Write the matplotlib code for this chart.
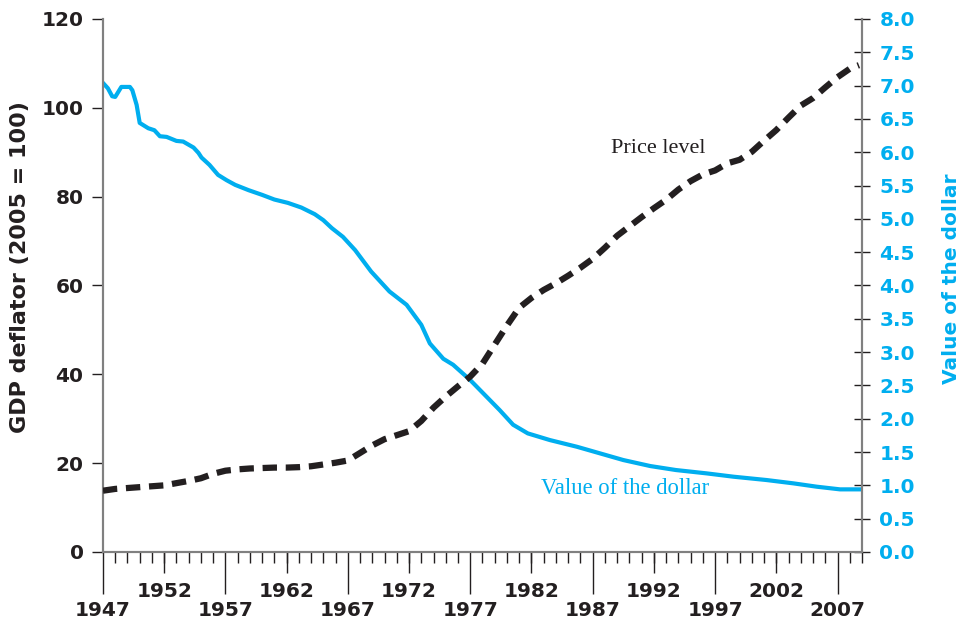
import numpy as np
import matplotlib
matplotlib.use("Agg")
import matplotlib.pyplot as plt
from matplotlib.ticker import FixedLocator, FormatStrFormatter

# Tingkat harga (GDP deflator, 2005 = 100)
price_years = list(range(1947, 2009)) + [2008.75]
price_level = [13.8, 14.2, 14.4, 14.6, 14.8, 15.0, 15.5, 16.0, 16.6, 17.6,
               18.3, 18.6, 18.8, 18.9, 19.0, 19.0, 19.1, 19.3, 19.7, 20.1,
               20.6, 22.3, 24.0, 25.4, 26.3, 27.2, 29.5, 32.5, 35.0, 37.3,
               39.5, 42.4, 46.7, 51.0, 55.0, 57.2, 59.0, 60.5, 62.2, 64.0,
               66.0, 68.5, 71.2, 73.3, 75.4, 77.4, 79.3, 81.6, 83.5, 85.0,
               85.9, 87.5, 88.3, 90.1, 92.6, 95.0, 97.8, 100.5, 102.2, 104.6,
               106.9, 108.8, 109.6]

# Nilai dolar (dolar 2005)
dollar_years = [1947.0, 1947.4, 1947.75, 1948.0, 1948.5, 1949.2, 1949.4, 1949.75,
                1950.0, 1950.7, 1951.2, 1951.65, 1952.2, 1953.0, 1953.55, 1954.4,
                1954.8, 1955.05, 1955.7, 1956.4, 1957.1, 1957.8, 1958.9, 1960.0,
                1961.0, 1962.1, 1963.2, 1964.3, 1965.0, 1965.7, 1966.6, 1967.6,
                1968.9, 1970.4, 1971.8, 1973.0, 1973.7, 1974.8, 1975.6, 1977.0,
                1978.6, 1979.4, 1980.5, 1981.7, 1983.5, 1985.7, 1987.6, 1989.5,
                1991.7, 1993.8, 1996.3, 1998.5, 2001.2, 2003.4, 2005.3, 2007.2,
                2008.75]
dollar_value = [7.04, 6.96, 6.84, 6.83, 6.98, 6.98, 6.93, 6.71,
                6.44, 6.36, 6.33, 6.24, 6.23, 6.17, 6.16, 6.07,
                5.99, 5.92, 5.81, 5.66, 5.58, 5.51, 5.43, 5.36,
                5.29, 5.24, 5.17, 5.07, 4.98, 4.86, 4.73, 4.53,
                4.21, 3.91, 3.71, 3.41, 3.13, 2.90, 2.81, 2.58,
                2.28, 2.13, 1.91, 1.78, 1.68, 1.58, 1.48, 1.38,
                1.29, 1.23, 1.18, 1.13, 1.08, 1.03, 0.98, 0.94,
                0.94]

row1_years = [1947, 1957, 1967, 1977, 1987, 1997, 2007]
row2_years = [1952, 1962, 1972, 1982, 1992, 2002]
left_ticks = [0, 20, 40, 60, 80, 100, 120]
right_ticks = np.arange(0, 8.01, 0.5)

dark = "#231f20"
blue = "#00aeef"
gray = "#808080"

plt.rcParams['font.family'] = ['DejaVu Sans']

fig = plt.figure(figsize=(9.65, 6.24), dpi=100)
ax = fig.add_axes([0.1067, 0.1154, 0.7866, 0.8542])
ax2 = ax.twinx()
# garis harga di atas garis dolar
ax.set_zorder(ax2.get_zorder() + 1)
ax.patch.set_visible(False)

ax.plot(price_years, price_level, color=dark, lw=4.5, dashes=(2.3, 1.4),
        dash_capstyle='butt', zorder=3)
ax2.plot(dollar_years, dollar_value, color=blue, lw=3, solid_joinstyle='round')

ax.set_xlim(1947, 2009)
ax.set_ylim(0, 120)
ax2.set_ylim(0, 8)

# sumbu kiri
ax.set_yticks(left_ticks)
ax.tick_params(axis='y', direction='out', length=8, width=1, color=dark,
               labelsize=14.5, labelcolor=dark, pad=6)
for lb in ax.get_yticklabels():
    lb.set_fontweight('bold')

# sumbu kanan
ax2.set_yticks(right_ticks)
ax2.yaxis.set_major_formatter(FormatStrFormatter('%.1f'))
ax2.tick_params(axis='y', direction='inout', length=11, width=1, color=dark,
                labelsize=14.5, labelcolor=blue, pad=7)
for lb in ax2.get_yticklabels():
    lb.set_fontweight('bold')

# sumbu x: baris bawah (tick panjang)
ax.xaxis.set_major_locator(FixedLocator(row1_years))
ax.xaxis.set_minor_locator(FixedLocator(list(range(1947, 2010))))
ax.tick_params(axis='x', which='major', direction='out', length=30, width=1,
               color=dark, labelsize=14.5, labelcolor=dark, pad=5)
ax.tick_params(axis='x', which='minor', direction='out', length=8, width=1,
               color=dark)
for lb in ax.get_xticklabels():
    lb.set_fontweight('bold')

# sumbu x: baris atas (tick sedang)
sec = ax.secondary_xaxis('bottom')
sec.set_xticks(row2_years)
sec.tick_params(axis='x', direction='out', length=15, width=1, color=dark,
                labelsize=14.5, labelcolor=dark, pad=6.5)
sec.spines['bottom'].set_visible(False)
for lb in sec.get_xticklabels():
    lb.set_fontweight('bold')

for a in (ax, ax2):
    a.spines['top'].set_visible(False)
    for side in ('left', 'right', 'bottom'):
        a.spines[side].set_color(gray)
        a.spines[side].set_linewidth(1.5)

ax.set_ylabel('GDP deflator (2005 = 100)', fontsize=16, fontweight='bold',
              color=dark)
ax.yaxis.set_label_coords(-0.096, 0.535)
ax2.set_ylabel('Value of the dollar', fontsize=14.5, fontweight='bold',
               color=blue)
ax2.yaxis.set_label_coords(1.106, 0.512)

ax.text(1988.5, 90.9, 'Price level', family='Liberation Serif', fontsize=16,
        color=dark, va='center')
ax2.text(1982.75, 0.96, 'Value of the dollar', family='Liberation Serif',
         fontsize=16.3, color=blue, va='center')

fig.savefig('out.png', dpi=100)
